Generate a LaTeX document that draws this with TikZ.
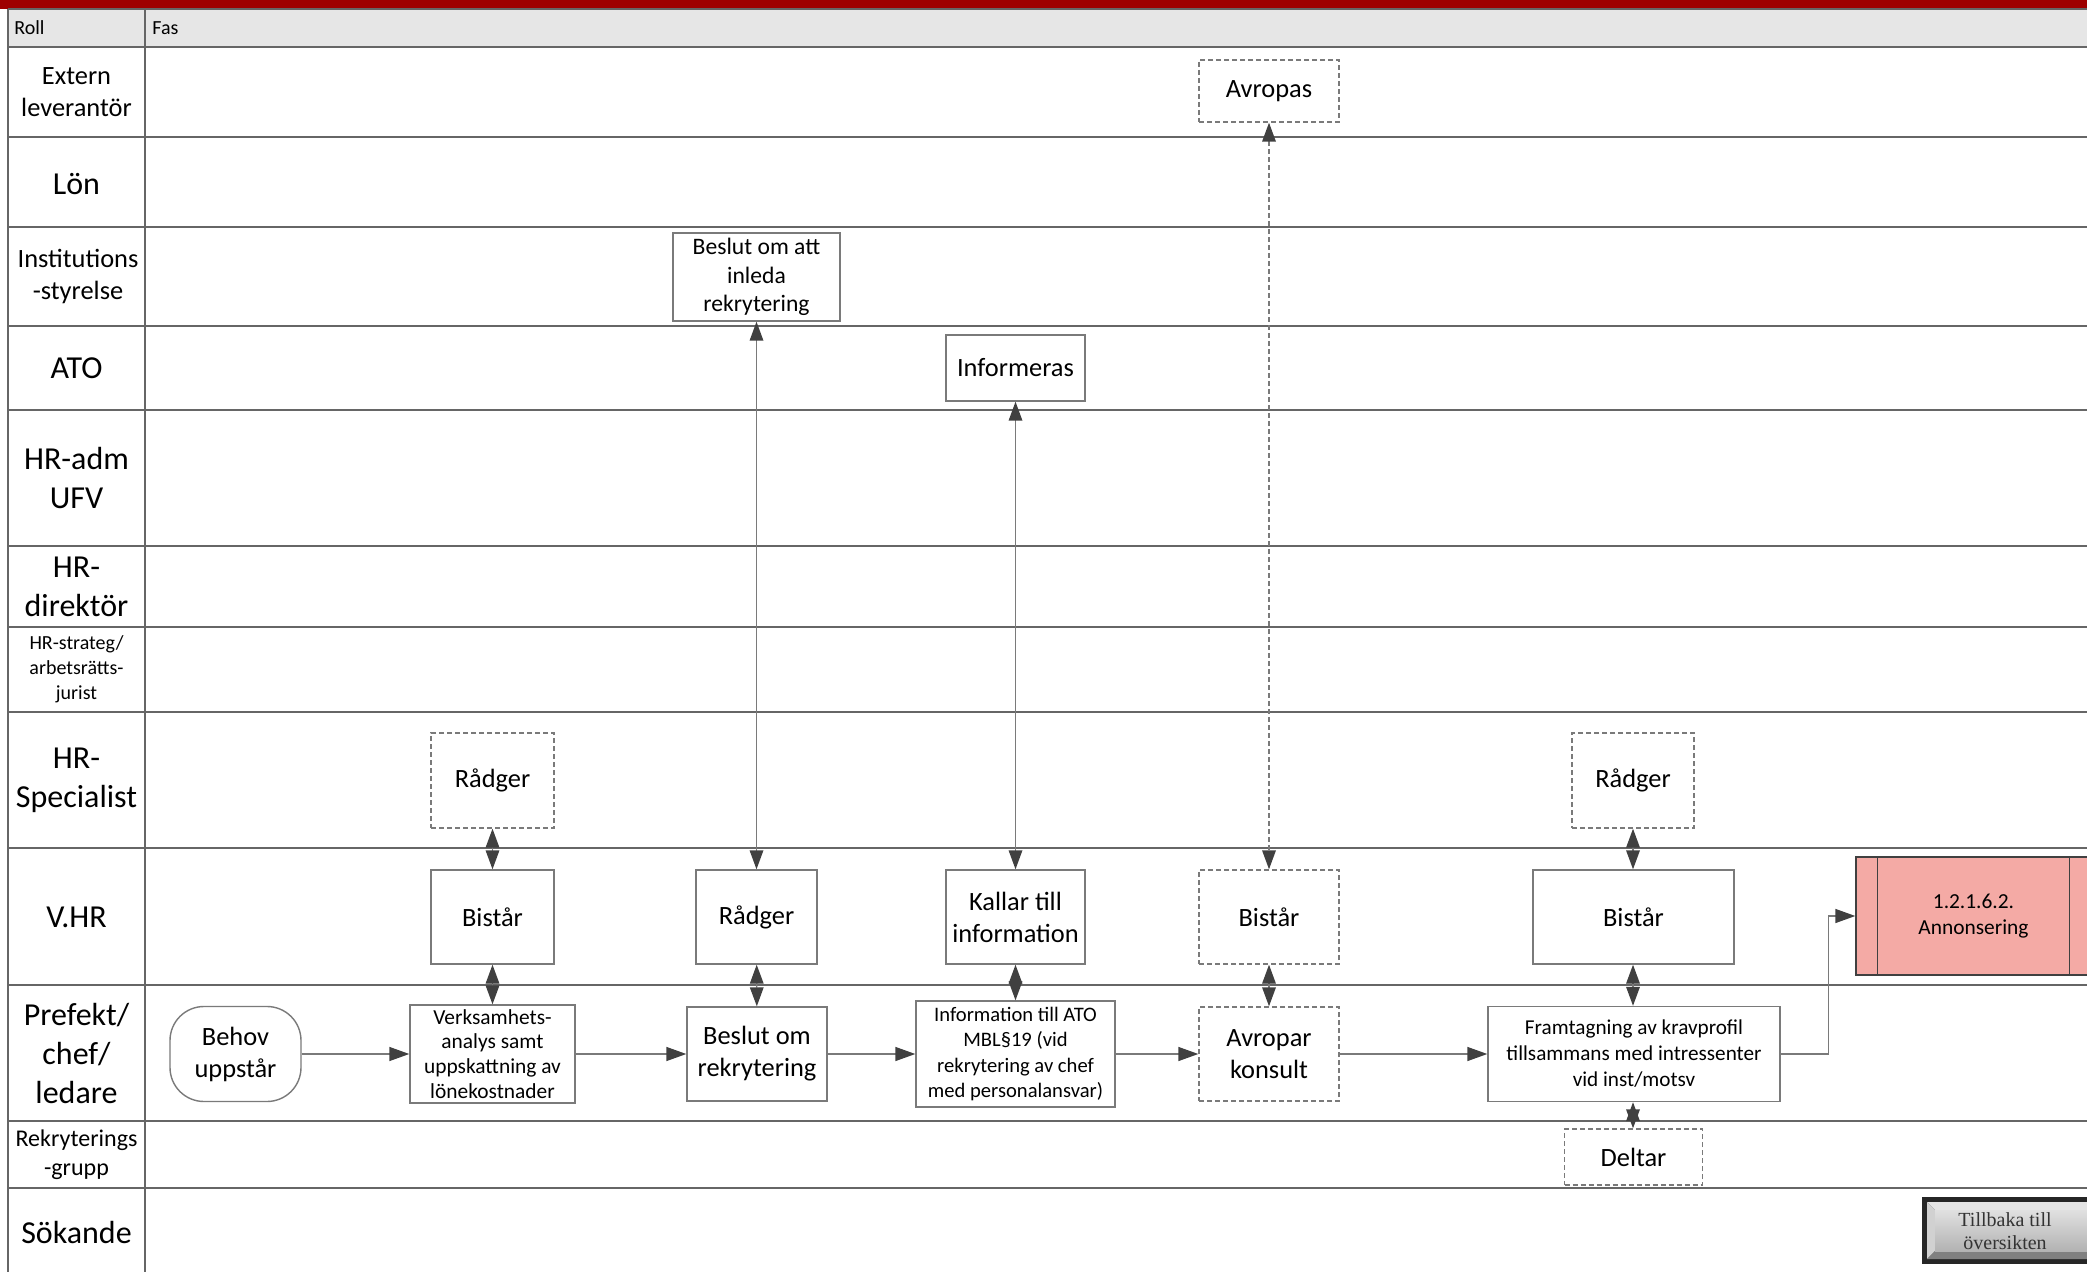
\documentclass[tikz,border=0pt]{standalone}
\usepackage{fontspec}
\setmainfont{Carlito}
\newfontfamily\btnfont{Liberation Serif}
\usetikzlibrary{arrows.meta}
\definecolor{redbar}{HTML}{9E0000}
\definecolor{hdr}{HTML}{E6E6E6}
\definecolor{lane}{HTML}{666666}
\definecolor{boxgray}{HTML}{7A7A7A}
\definecolor{arr}{HTML}{404040}
\definecolor{pinkfill}{HTML}{F4AAA5}
\tikzset{
  lanesep/.style={draw=lane, line width=1pt},
  rolebig/.style={align=center, inner sep=0pt, font=\fontsize{16}{19.5}\selectfont},
  rolemid/.style={align=center, inner sep=0pt, font=\fontsize{13.2}{16}\selectfont},
  rolerek/.style={align=center, inner sep=0pt, font=\fontsize{12}{14.5}\selectfont},
  rolesmall/.style={align=center, inner sep=0pt, font=\fontsize{10}{12.6}\selectfont},
  hdrtext/.style={anchor=west, inner sep=0pt, font=\fontsize{10}{12}\selectfont},
  box/.style={draw=boxgray, line width=0.7pt, fill=white, align=center, inner sep=0pt,
    font=\fontsize{13.2}{16}\selectfont},
  dbox/.style={box, dash pattern=on 2.5pt off 1.5pt},
  flow/.style={draw=boxgray, line width=0.7pt, -{Triangle[length=10pt,width=7pt,color=arr]}},
  dbl/.style={draw=boxgray, line width=0.7pt,
    {Triangle[length=9.5pt,width=6.8pt,color=arr]}-{Triangle[length=9.5pt,width=6.8pt,color=arr]}},
  dbldash/.style={dbl, dash pattern=on 2.5pt off 1.5pt}
}
\begin{document}
\begin{tikzpicture}[x=0.5pt,y=-0.5pt]
\useasboundingbox (0,0) rectangle (2087,1272);
\clip (0,0) rectangle (2087,1272);
% header
\fill[redbar] (0,0) rectangle (2087,9);
\fill[hdr] (8,9) rectangle (2087,47);
\foreach \yy in {9,47,137,227,326,410,546,627,712,848,985,1121,1188}
  \draw[lanesep] (8,\yy) -- (2087,\yy);
\draw[lanesep] (8,9) -- (8,1272);
\draw[lanesep] (145,9) -- (145,1272);
\node[hdrtext] (roll) at (14,28) {Roll};
\node[hdrtext] (fas) at (152,28) {Fas};
% role labels
\node[rolemid] (r1) at (76.5,92) {Extern\\leverantör};
\node[rolebig] (r2) at (76.5,184) {Lön};
\node[rolemid] (r3) at (78,276.5) {Institutions\\-styrelse};
\node[rolebig] (r4) at (76.5,368) {ATO};
\node[rolebig] (r5) at (76.5,478) {HR-adm\\UFV};
\node[rolebig] (r6) at (76.5,587) {HR-\\direktör};
\node[rolesmall] (r7) at (76.5,669.5) {HR-strateg/\\arbetsrätts-\\jurist};
\node[rolebig] (r8) at (76.5,780) {HR-\\Specialist};
\node[rolebig] (r9) at (76.5,917) {V.HR};
\node[rolebig] (r10) at (76.5,1053) {Prefekt/\\chef/\\ledare};
\node[rolerek] (r11) at (76.5,1155) {Rekryterings\\-grupp};
\node[rolebig] (r12) at (76.5,1232) {Sökande};
% upper nodes
\node[dbox, minimum width=70pt, minimum height=31pt] (avropas) at (1269,91) {Avropas};
\node[box, minimum width=83.5pt, minimum height=44pt, font=\fontsize{11.8}{14.3}\selectfont] (besinl) at (756.5,277) {Beslut om att\\inleda\\rekrytering};
\node[box, minimum width=69.5pt, minimum height=33pt] (informeras) at (1015.5,368) {Informeras};
% HR-specialist
\node[dbox, minimum width=61.5pt, minimum height=47.5pt] (rad1) at (492.5,780.5) {Rådger};
\node[dbox, minimum width=61pt, minimum height=47.5pt] (rad2) at (1633,780.5) {Rådger};
% V.HR
\node[box, minimum width=61.5pt, minimum height=47pt] (bis1) at (492.5,917) {Bistår};
\node[box, minimum width=60.5pt, minimum height=47pt] (radv) at (756.5,917) {Rådger};
\node[box, minimum width=69.5pt, minimum height=47pt] (kallar) at (1015.5,917) {Kallar till\\information};
\node[dbox, minimum width=70pt, minimum height=47pt] (bisd) at (1269,917) {Bistår};
\node[box, minimum width=100.5pt, minimum height=47pt] (bis2) at (1633.5,917) {Bistår};
\node[box, draw=arr, fill=pinkfill, minimum width=117.5pt, minimum height=59pt,
  font=\fontsize{10.7}{13.3}\selectfont] (ann) at (1973.5,916) {1.2.1.6.2.\\Annonsering};
\draw[arr, line width=0.6pt] ([xshift=11pt]ann.north west) -- ([xshift=11pt]ann.south west);
\draw[arr, line width=0.6pt] ([xshift=-11pt]ann.north east) -- ([xshift=-11pt]ann.south east);
% Prefekt row
\node[box, rounded corners=17pt, minimum width=65.5pt, minimum height=47.5pt] (behov) at (235.5,1054) {Behov\\uppstår};
\node[box, minimum width=82.5pt, minimum height=49pt, font=\fontsize{10.7}{12.4}\selectfont] (verks) at (492.5,1054) {Verksamhets-\\analys samt\\uppskattning av\\lönekostnader};
\node[box, minimum width=70pt, minimum height=47pt] (beslut) at (757,1054) {Beslut om\\rekrytering};
\node[box, minimum width=99.5pt, minimum height=53pt, font=\fontsize{10.3}{12.6}\selectfont] (info) at (1015.5,1054) {Information till ATO\\MBL§19 (vid\\rekrytering av chef\\med personalansvar)};
\node[dbox, minimum width=70pt, minimum height=47pt] (avropar) at (1269,1054) {Avropar\\konsult};
\node[box, minimum width=146pt, minimum height=47.5pt, font=\fontsize{10.6}{13}\selectfont] (fram) at (1634,1054) {Framtagning av kravprofil\\tillsammans med intressenter\\vid inst/motsv};
% Rekryteringsgrupp
\node[dbox, minimum width=69pt, minimum height=28pt] (deltar) at (1633.5,1157) {Deltar};
% flow arrows
\draw[flow] (behov) -- (verks);
\draw[flow] (verks) -- (beslut);
\draw[flow] (beslut) -- (info);
\draw[flow] (info) -- (avropar);
\draw[flow] (avropar) -- (fram);
\draw[flow] (fram.east) -- ++(48,0) |- (ann.west);
% short double arrows
\draw[dbl] (rad1) -- (bis1);
\draw[dbl] (bis1) -- (verks);
\draw[dbl] (radv) -- (beslut);
\draw[dbl] (kallar) -- (info);
\draw[dbl] (bisd) -- (avropar);
\draw[dbl] (rad2.south) -- (bis2.north -| rad2.south);
\draw[dbl] (bis2.south -| rad2.south) -- (fram.north -| rad2.south);
\draw[dbl] (fram.south -| rad2.south) -- (deltar.north -| rad2.south);
% long arrows
\draw[dbl] (besinl) -- (radv);
\draw[dbl] (informeras) -- (kallar);
\draw[dbldash] (avropas) -- (bisd);
% button
\fill[black!85] (1922,1197) rectangle (2100,1264);
\fill[black!10] (1927,1202) -- (2096,1202) -- (2088,1210) -- (1935,1210) -- cycle;
\fill[black!18] (1927,1202) -- (1935,1210) -- (1935,1251) -- (1927,1259) -- cycle;
\fill[black!50] (1927,1259) -- (1935,1251) -- (2088,1251) -- (2096,1259) -- cycle;
\fill[black!40] (2096,1202) -- (2088,1210) -- (2088,1251) -- (2096,1259) -- cycle;
\shade[top color=black!12, bottom color=black!30] (1935,1210) rectangle (2088,1251);
\node[align=center, inner sep=0pt, text=black!80, font=\btnfont\fontsize{10}{11.5}\selectfont] (back) at (2005,1231) {Tillbaka till\\översikten};
\end{tikzpicture}
\end{document}
